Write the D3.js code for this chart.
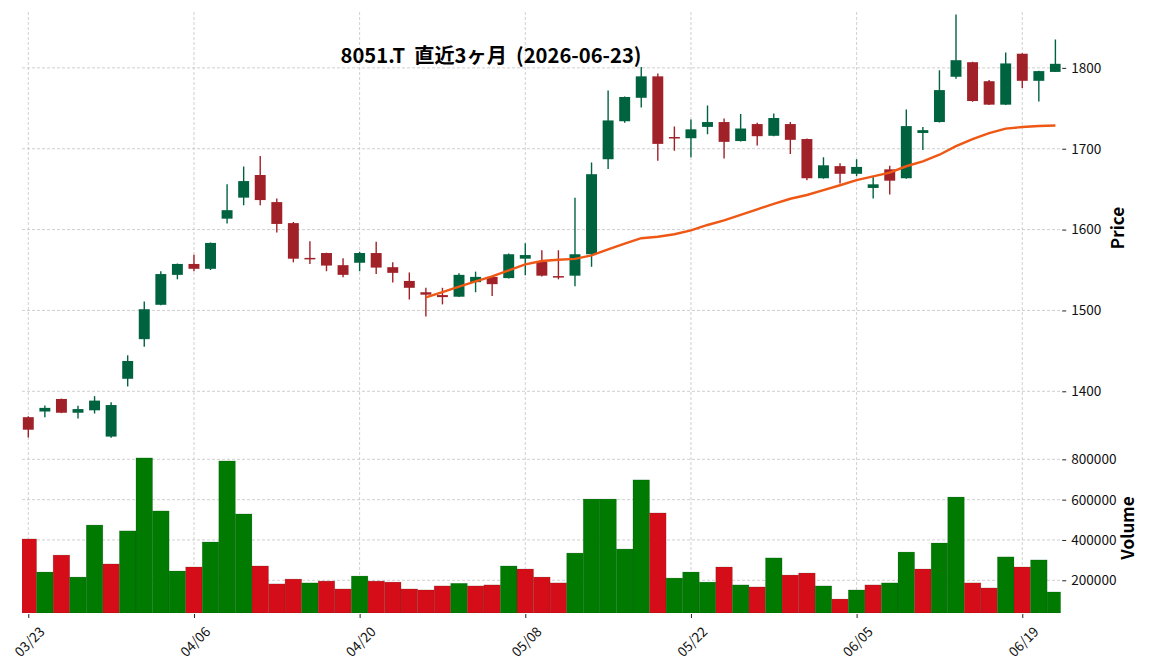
<!DOCTYPE html>
<html>
<head>
<meta charset="utf-8">
<script src="https://d3js.org/d3.v7.min.js"></script>
<style>
  body { margin: 0; background: #ffffff; }
  text { font-family: "Noto Sans CJK JP", "Noto Sans", sans-serif; }
</style>
</head>
<body>
<div class="chart"></div>
<script>
// trading days shown on the x axis (index based, holidays skipped)
var dates = [
  "03/23","03/24","03/25","03/26","03/27","03/30","03/31","04/01","04/02","04/03",
  "04/06","04/07","04/08","04/09","04/10","04/13","04/14","04/15","04/16","04/17",
  "04/20","04/21","04/22","04/23","04/24","04/27","04/28","04/30","05/01","05/07",
  "05/08","05/11","05/12","05/13","05/14","05/15","05/18","05/19","05/20","05/21",
  "05/22","05/25","05/26","05/27","05/28","05/29","06/01","06/02","06/03","06/04",
  "06/05","06/08","06/09","06/10","06/11","06/12","06/15","06/16","06/17","06/18",
  "06/19","06/22","06/23"
];

var opens = [
  1368, 1375, 1390.5, 1373.5, 1376.5, 1344, 1415.5, 1464.5, 1507, 1544,
  1557.5, 1551.5, 1613.5, 1639.5, 1667.5, 1634, 1608, 1565, 1571, 1556,
  1559, 1571, 1553.5, 1536.5, 1522.5, 1519, 1517, 1535, 1541.5, 1540,
  1564, 1560, 1542.5, 1543, 1569.5, 1687, 1734, 1763, 1789.5, 1714.5,
  1713, 1727, 1733, 1709.5, 1730.5, 1716, 1730.5, 1712, 1663.5, 1678.5,
  1669, 1651.5, 1674.5, 1663.5, 1719.5, 1733, 1789, 1807, 1783.5, 1754.5,
  1817.5, 1784, 1795
];

var highs = [
  1369, 1382.5, 1391, 1382, 1394, 1386.5, 1444.5, 1511, 1548.5, 1558,
  1569, 1584, 1656, 1678, 1691, 1638.5, 1609.5, 1585.5, 1571.5, 1564.5,
  1572.5, 1585, 1559.5, 1547, 1528, 1528, 1546, 1548, 1542, 1570.5,
  1583, 1574.5, 1574.5, 1639.5, 1683, 1772, 1764.5, 1801, 1793, 1727.5,
  1736, 1753.5, 1737.5, 1743, 1732, 1743.5, 1733, 1712.5, 1689.5, 1682,
  1687, 1666, 1679, 1748.5, 1727, 1797, 1866, 1807.5, 1785, 1819,
  1818, 1796.5, 1835
];

var lows = [
  1343, 1368, 1373, 1366.5, 1372.5, 1342.5, 1406, 1455, 1506.5, 1538.5,
  1548.5, 1550, 1607.5, 1630, 1630, 1596.5, 1559.5, 1557.5, 1548.5, 1541,
  1548.5, 1545, 1534.5, 1513.5, 1492.5, 1507.5, 1516.5, 1522.5, 1518, 1539.5,
  1543.5, 1542, 1538.5, 1530, 1554, 1675, 1732, 1751, 1685, 1697.5,
  1689.5, 1718, 1688, 1709, 1704, 1715.5, 1693.5, 1661, 1663, 1657,
  1666, 1638.5, 1643.5, 1663, 1698.5, 1732.5, 1786.5, 1758, 1754, 1754,
  1775, 1758.5, 1795
];

var closes = [
  1352.5, 1379.5, 1373.5, 1378, 1388.5, 1383, 1437.5, 1501.5, 1545, 1557.5,
  1551.5, 1583.5, 1624, 1660, 1636.5, 1607, 1564, 1564.5, 1555.5, 1544,
  1571, 1553, 1546.5, 1528, 1519.5, 1516.5, 1544, 1541.5, 1532.5, 1569.5,
  1568.5, 1543, 1542, 1569.5, 1668.5, 1735, 1764, 1789.5, 1706, 1713.5,
  1724, 1733, 1708.5, 1725, 1715.5, 1738, 1711, 1663.5, 1679.5, 1669,
  1677.5, 1656, 1660.5, 1728, 1723, 1772.5, 1809.5, 1759, 1754.5, 1805.5,
  1784, 1796, 1805
];

var volumes = [
  405000, 241000, 325000, 216000, 474000, 281000, 445000, 807000, 544000, 246000,
  266000, 390000, 792000, 529000, 271000, 182000, 206000, 187000, 196000, 157000,
  221000, 196000, 191000, 157000, 152000, 172000, 185000, 172000, 177000, 271000,
  256000, 216000, 187000, 335000, 603000, 603000, 355000, 698000, 534000, 211000,
  241000, 191000, 266000, 177000, 167000, 311000, 226000, 236000, 172000, 107000,
  152000, 177000, 187000, 340000, 256000, 385000, 613000, 187000, 162000, 316000,
  266000, 301000, 142000
];

var priceTicks = [1400, 1500, 1600, 1700, 1800];
var volumeTicks = [200000, 400000, 600000, 800000];
var dateTicks = [0, 10, 20, 30, 40, 50, 60];
var maWindow = 25;
var title = "8051.T  直近3ヶ月  (2026-06-23)";

// colours (mplfinance "charles"-like)
var upColor = "#006340", downColor = "#a02128";
var volUp = "#007a00", volDown = "#d50d18";
var maColor = "#ef5714";
var gridColor = "#c4c4c4";

// panel geometry
var svgWidth = 1152, svgHeight = 670;
var left = 22, right = 1060.7;
var priceTop = 12, split = 442, volBottom = 613;

var svg = d3.select(".chart")
  .append("svg")
  .attr("width", svgWidth)
  .attr("height", svgHeight);

// scales
var x = d3.scaleLinear().domain([-0.38, 62.32]).range([left, right]);
var yPrice = d3.scaleLinear().domain([1337.3, 1869.1]).range([split, priceTop]);
var yVol = d3.scaleLinear().domain([37700, 886000]).range([volBottom, split]);
var step = x(1) - x(0);

// clip paths so bars at the edges get cut like the original
var defs = svg.append("defs");
defs.append("clipPath").attr("id", "clipPrice")
  .append("rect").attr("x", left).attr("y", priceTop)
  .attr("width", right - left).attr("height", split - priceTop);
defs.append("clipPath").attr("id", "clipVol")
  .append("rect").attr("x", left).attr("y", split)
  .attr("width", right - left).attr("height", volBottom - split);

// grid lines
var grid = svg.append("g")
  .attr("stroke", gridColor)
  .attr("stroke-width", 0.8)
  .attr("stroke-dasharray", "3,2");

grid.selectAll(".vgrid")
  .data(dateTicks)
  .enter()
  .append("line")
  .attr("x1", d => x(d)).attr("x2", d => x(d))
  .attr("y1", priceTop).attr("y2", volBottom);

grid.selectAll(".pgrid")
  .data(priceTicks)
  .enter()
  .append("line")
  .attr("x1", left).attr("x2", right)
  .attr("y1", d => yPrice(d)).attr("y2", d => yPrice(d));

grid.selectAll(".vlgrid")
  .data(volumeTicks)
  .enter()
  .append("line")
  .attr("x1", left).attr("x2", right)
  .attr("y1", d => yVol(d)).attr("y2", d => yVol(d));

var idx = d3.range(dates.length);

// volume bars, coloured by close vs previous close
var volGroup = svg.append("g").attr("clip-path", "url(#clipVol)");
volGroup.selectAll("rect")
  .data(idx)
  .enter()
  .append("rect")
  .attr("x", i => x(i) - step / 2)
  .attr("width", step)
  .attr("y", i => yVol(volumes[i]))
  .attr("height", i => yVol.range()[0] - yVol(volumes[i]))
  .attr("fill", function(i) {
    var up = i === 0 ? closes[0] >= opens[0] : closes[i] >= closes[i - 1];
    return up ? volUp : volDown;
  })
  .attr("stroke", "rgba(0,60,30,0.25)")
  .attr("stroke-width", 0.6);

// candles
var candleGroup = svg.append("g").attr("clip-path", "url(#clipPrice)");
var bodyW = step * 0.66;

candleGroup.selectAll(".wick")
  .data(idx)
  .enter()
  .append("line")
  .attr("x1", i => x(i)).attr("x2", i => x(i))
  .attr("y1", i => yPrice(highs[i]))
  .attr("y2", i => yPrice(lows[i]))
  .attr("stroke", i => closes[i] >= opens[i] ? upColor : downColor)
  .attr("stroke-width", 1.4);

candleGroup.selectAll(".body")
  .data(idx)
  .enter()
  .append("rect")
  .attr("x", i => x(i) - bodyW / 2)
  .attr("width", bodyW)
  .attr("y", i => yPrice(Math.max(opens[i], closes[i])))
  .attr("height", i => Math.max(1.5, Math.abs(yPrice(opens[i]) - yPrice(closes[i]))))
  .attr("fill", i => closes[i] >= opens[i] ? upColor : downColor);

// 25 day moving average of the closes
var ma = closes.map(function(c, i) {
  if (i < maWindow - 1) return null;
  return d3.mean(closes.slice(i - maWindow + 1, i + 1));
});

var maLine = d3.line()
  .defined(d => d !== null)
  .x((d, i) => x(i))
  .y(d => yPrice(d))
  .curve(d3.curveLinear);

candleGroup.append("path")
  .datum(ma)
  .attr("d", maLine)
  .attr("fill", "none")
  .attr("stroke", maColor)
  .attr("stroke-width", 2.4);

// right hand axes
var priceAxis = d3.axisRight(yPrice).tickValues(priceTicks).tickSize(4).tickPadding(5)
  .tickFormat(d3.format("d"));
var volAxis = d3.axisRight(yVol).tickValues(volumeTicks).tickSize(4).tickPadding(5)
  .tickFormat(d3.format("d"));

svg.append("g")
  .attr("class", "axis")
  .attr("transform", `translate(${right + 1.5}, 0)`)
  .call(priceAxis);

svg.append("g")
  .attr("class", "axis")
  .attr("transform", `translate(${right + 1.5}, 0)`)
  .call(volAxis);

// bottom date axis
var dateAxis = d3.axisBottom(x).tickValues(dateTicks).tickSize(4)
  .tickFormat(i => dates[i]);

var xg = svg.append("g")
  .attr("class", "axis")
  .attr("transform", `translate(0, ${volBottom + 1})`)
  .call(dateAxis);

xg.selectAll("text")
  .attr("y", 0)
  .attr("dy", 0)
  .attr("text-anchor", "middle")
  .attr("dominant-baseline", "central")
  .attr("transform", "translate(0, 27) rotate(-45)");

svg.selectAll(".axis .domain").remove();
svg.selectAll(".axis text")
  .attr("font-size", "13.6px")
  .attr("fill", "#111")
  .style("font-family", "'Noto Sans CJK JP', 'Noto Sans', sans-serif");
svg.selectAll(".axis line").attr("stroke", "#222");

// axis labels
svg.append("text")
  .attr("transform", "translate(1124, 228) rotate(-90)")
  .attr("text-anchor", "middle")
  .attr("font-size", "17px")
  .attr("font-weight", "bold")
  .text("Price");

svg.append("text")
  .attr("transform", "translate(1134, 528) rotate(-90)")
  .attr("text-anchor", "middle")
  .attr("font-size", "17px")
  .attr("font-weight", "bold")
  .text("Volume");

// title
svg.append("text")
  .attr("x", 491)
  .attr("y", 63)
  .attr("text-anchor", "middle")
  .attr("font-size", "20.2px")
  .attr("font-weight", "bold")
  .style("white-space", "pre")
  .text(title);
</script>
</body>
</html>
